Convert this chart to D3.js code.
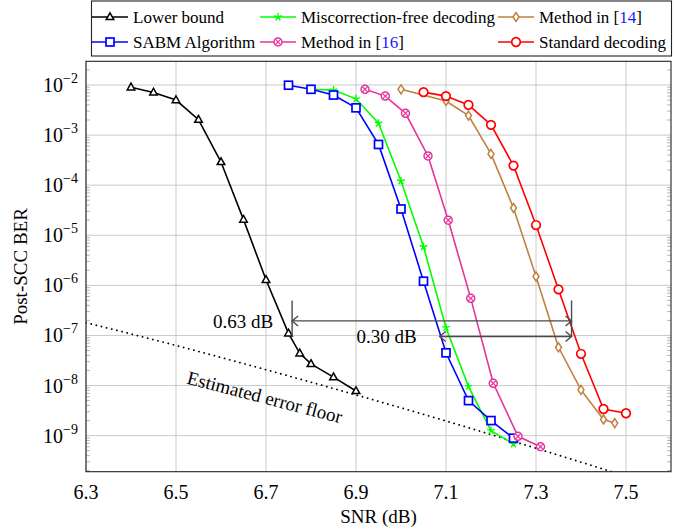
<!DOCTYPE html>
<html>
<head>
<meta charset="utf-8">
<script src="https://cdn.jsdelivr.net/npm/d3@7"></script>
<style>
  html, body { margin: 0; padding: 0; background: #fff; }
</style>
</head>
<body>
<div id="chart"></div>
<script>
// ---- data ----
const snrLower = [6.4, 6.45, 6.5, 6.55, 6.6, 6.65, 6.7, 6.75, 6.775, 6.8, 6.85, 6.9];
const berLower = [9e-3, 7.1e-3, 5e-3, 2.03e-3, 2.9e-4, 2.05e-5, 1.29e-6, 1.1e-7, 4.4e-8, 2.7e-8, 1.47e-8, 7.8e-9];

const snrMisc = [6.8, 6.85, 6.9, 6.95, 7.0, 7.05, 7.1, 7.15, 7.2, 7.25];
const berMisc = [8.2e-3, 7.9e-3, 5.3e-3, 1.72e-3, 1.21e-4, 5.9e-6, 1.43e-7, 9.5e-9, 1.26e-9, 6.8e-10];

const snrM14 = [7.0, 7.1, 7.15, 7.2, 7.25, 7.3, 7.35, 7.4, 7.45, 7.475];
const berM14 = [8.2e-3, 4.8e-3, 2.45e-3, 4.2e-4, 3.5e-5, 1.5e-6, 5.8e-8, 8.2e-9, 2.1e-9, 1.78e-9];

const snrSabm = [6.75, 6.8, 6.85, 6.9, 6.95, 7.0, 7.05, 7.1, 7.15, 7.2, 7.25];
const berSabm = [9.9e-3, 8.2e-3, 6.3e-3, 3.5e-3, 6.5e-4, 3.35e-5, 1.21e-6, 4.5e-8, 5e-9, 2e-9, 8.9e-10];

const snrM16 = [6.92, 6.965, 7.01, 7.06, 7.105, 7.155, 7.205, 7.26, 7.31];
const berM16 = [8.2e-3, 6.0e-3, 2.72e-3, 3.83e-4, 2.0e-5, 5.5e-7, 1.11e-8, 9.7e-10, 6.0e-10];

const snrStd = [7.05, 7.1, 7.15, 7.2, 7.25, 7.3, 7.35, 7.4, 7.45, 7.5];
const berStd = [7.2e-3, 6.0e-3, 4.0e-3, 1.6e-3, 2.46e-4, 1.6e-5, 8.3e-7, 4.3e-8, 3.4e-9, 2.8e-9];

const snrFloor = [6.3, 6.5, 6.7, 6.9, 7.1, 7.3, 7.5];
const berFloor = [1.8e-7, 6.3e-8, 2.07e-8, 6.5e-9, 1.96e-9, 5.6e-10, 1.55e-10];

const xTicks = [6.3, 6.5, 6.7, 6.9, 7.1, 7.3, 7.5];
const yTickExps = [-2, -3, -4, -5, -6, -7, -8, -9];

// dB gap annotations: [from, to, level]
const gapLabels = ["0.63 dB", "0.30 dB"];
const gapFrom = [6.758, 7.086];
const gapTo = [7.379, 7.379];
const gapBer = [1.95e-7, 9.5e-8];

// order of drawing == legend order (3 columns, row-wise)
const series = [
  { name: "Lower bound", x: snrLower, y: berLower, color: "#000000", marker: "triangle" },
  { name: "Miscorrection-free decoding", x: snrMisc, y: berMisc, color: "#00ff00", marker: "star" },
  { name: "Method in ", ref: "14", x: snrM14, y: berM14, color: "#bf8040", marker: "diamond" },
  { name: "SABM Algorithm", x: snrSabm, y: berSabm, color: "#0000ff", marker: "square" },
  { name: "Method in ", ref: "16", x: snrM16, y: berM16, color: "#e6339a", marker: "otimes" },
  { name: "Standard decoding", x: snrStd, y: berStd, color: "#ff0000", marker: "circle" }
];

const width = 674, height = 532;
const margin = { left: 86, right: 3, top: 61.3, bottom: 60.3 };
const serif = "'Liberation Serif', 'Times New Roman', 'DejaVu Serif', serif";

const svg = d3.select("#chart").append("svg")
  .attr("width", width).attr("height", height)
  .attr("viewBox", [0, 0, width, height])
  .attr("font-family", serif)
  .style("display", "block");

const x = d3.scaleLinear().domain([6.3, 7.6]).range([margin.left, width - margin.right]);
const y = d3.scaleLog().domain([Math.pow(10, -9.72), Math.pow(10, -1.527)])
  .range([height - margin.bottom, margin.top]);

const x0 = x.range()[0], x1 = x.range()[1];
const y0 = y.range()[0], y1 = y.range()[1];

svg.append("clipPath").attr("id", "plotclip")
  .append("rect").attr("x", x0).attr("y", y1).attr("width", x1 - x0).attr("height", y0 - y1);

// ---- grid ----
const grid = svg.append("g").attr("stroke", "#c4c4c4").attr("stroke-width", 0.9);
grid.selectAll("line.gx").data(xTicks).join("line")
  .attr("x1", d => x(d)).attr("x2", d => x(d)).attr("y1", y1).attr("y2", y0);
grid.selectAll("line.gy").data(yTickExps).join("line")
  .attr("y1", d => y(Math.pow(10, d))).attr("y2", d => y(Math.pow(10, d))).attr("x1", x0).attr("x2", x1);

// minor log ticks (both sides, inside)
const minor = [];
for (let e = -10; e <= -2; e++) {
  for (let m = 2; m <= 9; m++) {
    const v = m * Math.pow(10, e);
    if (v > y.domain()[0] && v < y.domain()[1]) minor.push(v);
  }
}
const tk = svg.append("g").attr("stroke", "#9a9a9a").attr("stroke-width", 0.7);
tk.selectAll("line.ml").data(minor).join("line")
  .attr("x1", x0).attr("x2", x0 + 4).attr("y1", d => y(d)).attr("y2", d => y(d));
tk.selectAll("line.mr").data(minor).join("line")
  .attr("x1", x1).attr("x2", x1 - 4).attr("y1", d => y(d)).attr("y2", d => y(d));

// ---- markers ----
function drawMarker(g, type, color) {
  const sw = 1.5;
  if (type === "triangle") {
    g.append("path").attr("d", "M0,-4.2L3.8,2.6L-3.8,2.6Z")
      .attr("fill", "#fff").attr("stroke", color).attr("stroke-width", sw);
  } else if (type === "square") {
    g.append("rect").attr("x", -4).attr("y", -4).attr("width", 8).attr("height", 8)
      .attr("fill", "#fff").attr("stroke", color).attr("stroke-width", 1.7);
  } else if (type === "diamond") {
    g.append("path").attr("d", "M0,-4.5L3,0L0,4.5L-3,0Z")
      .attr("fill", "#fff").attr("stroke", color).attr("stroke-width", sw);
  } else if (type === "circle") {
    g.append("circle").attr("r", 4.3)
      .attr("fill", "#fff").attr("stroke", color).attr("stroke-width", 1.7);
  } else if (type === "otimes") {
    g.append("circle").attr("r", 4)
      .attr("fill", "#fff").attr("stroke", color).attr("stroke-width", sw);
    g.append("path").attr("d", "M-2.8,-2.8L2.8,2.8M-2.8,2.8L2.8,-2.8")
      .attr("stroke", color).attr("stroke-width", 1.2);
  } else if (type === "star") {
    const r = 4;
    const d = d3.range(5).map(i => {
      const a = -Math.PI / 2 + i * 2 * Math.PI / 5;
      return `M0,0L${(r * Math.cos(a)).toFixed(2)},${(r * Math.sin(a)).toFixed(2)}`;
    }).join("");
    g.append("path").attr("d", d).attr("stroke", color).attr("stroke-width", 1.4).attr("fill", "none");
  }
}

const plot = svg.append("g").attr("clip-path", "url(#plotclip)");

// estimated error floor (dotted)
plot.append("path")
  .datum(snrFloor.map((s, i) => [s, berFloor[i]]))
  .attr("fill", "none").attr("stroke", "#000").attr("stroke-width", 1.8)
  .attr("stroke-dasharray", "0.1 5.2").attr("stroke-linecap", "round")
  .attr("d", d3.line().x(d => x(d[0])).y(d => y(d[1])).curve(d3.curveMonotoneX));

const line = d3.line().x(d => x(d[0])).y(d => y(d[1]));

series.forEach(s => {
  const pts = s.x.map((v, i) => [v, s.y[i]]);
  const g = plot.append("g");
  g.append("path").datum(pts).attr("fill", "none")
    .attr("stroke", s.color).attr("stroke-width", 1.6).attr("d", line);
  g.selectAll("g.mk").data(pts).join("g")
    .attr("transform", d => `translate(${x(d[0])},${y(d[1])})`)
    .each(function () { drawMarker(d3.select(this), s.marker, s.color); });
});

// ---- gap annotations ----
const ann = svg.append("g").attr("stroke", "#4a4a4a").attr("stroke-width", 1.4).attr("fill", "none");
// vertical reference bars
[gapFrom[0], gapTo[0]].forEach(v => {
  ann.append("line").attr("x1", x(v)).attr("x2", x(v))
    .attr("y1", y(5e-7)).attr("y2", y(9.5e-8));
});
gapLabels.forEach((lab, i) => {
  const xa = x(gapFrom[i]), xb = x(gapTo[i]), yy = y(gapBer[i]);
  ann.append("line").attr("x1", xa).attr("x2", xb).attr("y1", yy).attr("y2", yy);
  ann.append("path").attr("d", `M${xa + 6},${yy - 5}L${xa},${yy}L${xa + 6},${yy + 5}`);
  ann.append("path").attr("d", `M${xb - 6},${yy - 5}L${xb},${yy}L${xb - 6},${yy + 5}`);
  svg.append("text").attr("x", xa - (i === 0 ? 19 : 23)).attr("y", yy)
    .attr("dy", "0.35em").attr("text-anchor", "end")
    .attr("font-size", 19).attr("fill", "#000").text(lab);
});

// error floor label
const flX = x(6.5) + 10, flY = y(1.1e-8);
svg.append("text")
  .attr("transform", `translate(${flX},${flY}) rotate(14.5)`)
  .attr("font-size", 19).attr("fill", "#000").text("Estimated error floor");

// ---- frame ----
svg.append("rect").attr("x", x0).attr("y", y1).attr("width", x1 - x0).attr("height", y0 - y1)
  .attr("fill", "none").attr("stroke", "#222").attr("stroke-width", 1.1);

// ---- tick labels ----
svg.append("g").selectAll("text").data(xTicks).join("text")
  .attr("x", d => x(d)).attr("y", y0 + 27).attr("text-anchor", "middle")
  .attr("font-size", 20).text(d => d.toFixed(1));

const yl = svg.append("g").selectAll("text").data(yTickExps).join("text")
  .attr("x", x0 - 8).attr("y", d => y(Math.pow(10, d)) + 7).attr("text-anchor", "end")
  .attr("font-size", 20);
yl.append("tspan").text("10");
yl.append("tspan").attr("dy", -9).attr("font-size", 14).text(d => "\u2212" + Math.abs(d));

// axis titles
svg.append("text").attr("x", (x0 + x1) / 2).attr("y", 523).attr("text-anchor", "middle")
  .attr("font-size", 19).text("SNR (dB)");
svg.append("text").attr("transform", `translate(27,${(y0 + y1) / 2}) rotate(-90)`)
  .attr("text-anchor", "middle").attr("font-size", 19).text("Post-SCC BER");

// ---- legend ----
const lg = svg.append("g");
lg.append("rect").attr("x", 91.5).attr("y", 1).attr("width", 580).attr("height", 55)
  .attr("fill", "#fff").attr("stroke", "#222").attr("stroke-width", 1.1);
const colX = [92, 260, 498];
const rowY = [17, 42];
series.forEach((s, i) => {
  const cx = colX[i % 3], cy = rowY[Math.floor(i / 3)];
  const g = lg.append("g");
  g.append("line").attr("x1", cx).attr("x2", cx + 36).attr("y1", cy).attr("y2", cy)
    .attr("stroke", s.color).attr("stroke-width", 1.6);
  drawMarker(g.append("g").attr("transform", `translate(${cx + 18},${cy})`), s.marker, s.color);
  const t = g.append("text").attr("x", cx + 41).attr("y", cy).attr("dy", "0.33em")
    .attr("font-size", 17).attr("fill", "#000");
  t.append("tspan").text(s.name);
  if (s.ref) {
    t.append("tspan").text("[");
    t.append("tspan").attr("fill", "#1a1aff").text(s.ref);
    t.append("tspan").text("]");
  }
});
</script>
</body>
</html>
